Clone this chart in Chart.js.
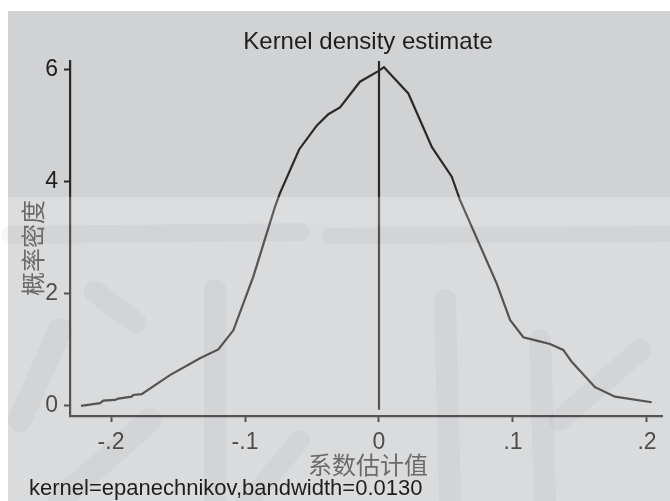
<!DOCTYPE html>
<html>
<head>
<meta charset="utf-8">
<script src="https://cdn.jsdelivr.net/npm/chart.js@4/dist/chart.umd.min.js"></script>
<style>
html,body{margin:0;padding:0;background:#fff;}
canvas{display:block;}
</style>
</head>
<body>
<canvas id="c" width="670" height="501"></canvas>
<script>
// ---- data ----
const densX = [-0.2224, -0.2082, -0.2057, -0.1970, -0.1946, -0.1846, -0.1834, -0.1771, -0.1560, -0.1336, -0.1199, -0.1087, -0.0938, -0.0776, -0.0739, -0.0596, -0.0465, -0.0378, -0.0291, -0.0142, -0.0005, 0.0037, 0.0219, 0.0395, 0.0543, 0.0604, 0.0878, 0.0978, 0.1077, 0.1177, 0.1276, 0.1375, 0.1438, 0.1612, 0.1761, 0.2035];
const densY = [0.00, 0.05, 0.095, 0.107, 0.13, 0.166, 0.196, 0.209, 0.55, 0.85, 1.01, 1.35, 2.31, 3.56, 3.80, 4.58, 5.005, 5.21, 5.33, 5.79, 5.98, 6.05, 5.58, 4.62, 4.095, 3.68, 2.19, 1.536, 1.227, 1.166, 1.107, 1.00, 0.79, 0.334, 0.166, 0.066];
const refLineX = 0;
const refLineY = [-0.07, 6.16];
const xTickValues = [-0.2, -0.1, 0, 0.1, 0.2];
const xTickLabels = ['-.2', '-.1', '0', '.1', '.2'];
const yTickValues = [0, 2, 4, 6];
const yTickLabels = ['0', '2', '4', '6'];
const titleText = 'Kernel density estimate';
const xTitle = '系数估计值';
const yTitle = '概率密度';
const noteText = 'kernel=epanechnikov,bandwidth=0.0130';

const LINE = '#2a2a2a';
const FONT = '"Liberation Sans", Arial, sans-serif';
const CJK = '"Noto Sans CJK SC", sans-serif';

const bgPlugin = {
  id: 'bg',
  beforeDraw(chart) {
    const c = chart.ctx;
    c.save();
    c.fillStyle = '#ffffff';
    c.fillRect(0, 0, chart.width, chart.height);
    c.fillStyle = '#d1d2d4';
    c.fillRect(8, 11, chart.width - 8, chart.height - 11);
    c.restore();
  },
  afterDraw(chart) {
    const c = chart.ctx;
    const W = chart.width, H = chart.height;
    c.save();
    c.fillStyle = 'rgba(255,255,255,0.20)';
    c.fillRect(8, 197, W - 8, H - 197);
    c.fillStyle = 'rgba(255,255,255,0.06)';
    c.fillRect(8, 197, W - 8, 28);
    c.lineCap = 'round';
    c.strokeStyle = 'rgba(60,60,70,0.04)';
    const strokes = [
      [[10, 235], [300, 232], 18],
      [[330, 236], [670, 234], 16],
      [[95, 292], [135, 322], 22],
      [[215, 290], [215, 500], 22],
      [[60, 330], [20, 420], 24],
      [[445, 300], [450, 500], 22],
      [[540, 340], [545, 500], 22],
      [[560, 420], [640, 350], 22],
      [[150, 420], [60, 500], 24],
      [[300, 440], [250, 500], 20]
    ];
    strokes.forEach(s => {
      c.lineWidth = s[2];
      c.beginPath();
      c.moveTo(s[0][0], s[0][1]);
      c.lineTo(s[1][0], s[1][1]);
      c.stroke();
    });
    const ca = chart.chartArea;
    const cx = (ca.left + ca.right) / 2;
    c.fillStyle = '#1e1e1e';
    c.font = '24px ' + FONT;
    c.textAlign = 'center';
    c.textBaseline = 'middle';
    c.fillText(titleText, cx + 2, 42);
    c.fillStyle = '#6a6a6a';
    c.font = '24px ' + CJK;
    c.fillText(xTitle, cx + 2, 465);
    c.save();
    c.translate(33, 248);
    c.rotate(-Math.PI / 2);
    c.fillText(yTitle, 0, 0);
    c.restore();
    c.fillStyle = '#1e1e1e';
    c.font = '22px ' + FONT;
    c.textAlign = 'left';
    c.fillText(noteText, 29, 489);
    c.restore();
  }
};

new Chart(document.getElementById('c'), {
  type: 'scatter',
  data: {
    datasets: [
      {
        data: densX.map((x, i) => ({ x: x, y: densY[i] })),
        showLine: true, borderColor: LINE, borderWidth: 2.2, pointRadius: 0, tension: 0
      },
      {
        data: refLineY.map(y => ({ x: refLineX, y: y })),
        showLine: true, borderColor: LINE, borderWidth: 2.2, pointRadius: 0
      }
    ]
  },
  options: {
    responsive: false,
    animation: false,
    devicePixelRatio: 1,
    layout: { padding: { top: 61, right: 8, left: 0, bottom: 0 } },
    plugins: { legend: { display: false }, tooltip: { enabled: false }, title: { display: false } },
    scales: {
      x: {
        type: 'linear', min: -0.2306, max: 0.2112,
        afterFit: s => { s.height = 85; },
        afterBuildTicks: s => { s.ticks = xTickValues.map(v => ({ value: v })); },
        ticks: {
          callback: v => xTickLabels[xTickValues.indexOf(v)],
          font: { family: FONT, size: 23 }, color: '#1e1e1e', padding: 7,
          maxRotation: 0, autoSkip: false
        },
        grid: { drawOnChartArea: false, drawTicks: true, tickLength: 6, tickColor: LINE, tickWidth: 2 },
        border: { color: LINE, width: 2.2 }
      },
      y: {
        type: 'linear', min: -0.18, max: 6.16,
        afterFit: s => { s.width = 70; },
        afterBuildTicks: s => { s.ticks = yTickValues.map(v => ({ value: v })); },
        ticks: {
          callback: v => yTickLabels[yTickValues.indexOf(v)],
          font: { family: FONT, size: 23 }, color: '#1e1e1e', padding: 6,
          autoSkip: false
        },
        grid: { drawOnChartArea: false, drawTicks: true, tickLength: 6, tickColor: LINE, tickWidth: 2 },
        border: { color: LINE, width: 2.2 }
      }
    }
  },
  plugins: [bgPlugin]
});
</script>
</body>
</html>
